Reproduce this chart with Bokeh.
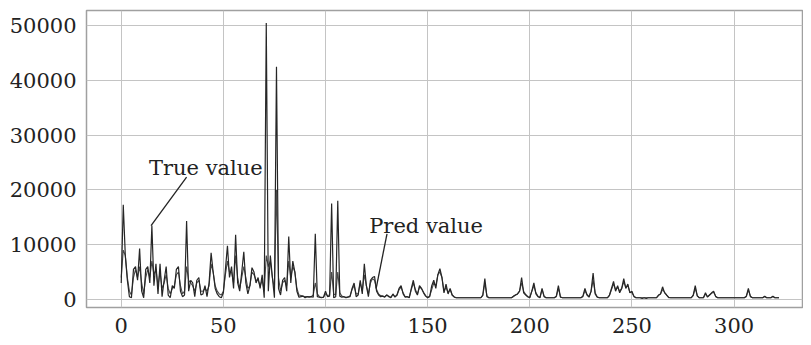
from bokeh.plotting import figure
from bokeh.models import Range1d, FixedTicker, BasicTickFormatter, Label
from bokeh.embed import file_html
from bokeh.resources import INLINE

true_vals = [
    3000, 17300, 8000, 3500, 500, 300, 5500, 6000, 3500, 9300,
    1500, 300, 5500, 6000, 3000, 13500, 2500, 6500, 1000, 6500,
    500, 3500, 6000, 800, 300, 2500, 2000, 5500, 6000, 1500,
    500, 800, 14300, 1500, 3500, 3000, 500, 3500, 4000, 800,
    1000, 2500, 500, 3000, 8500, 5000, 2000, 1000, 500, 300,
    1200, 5500, 9800, 4000, 6000, 2000, 11800, 3000, 1500, 5000,
    8700, 3000, 1000, 2500, 5800, 5000, 3000, 4000, 2000, 4500,
    300, 50500, 1500, 8000, 4000, 300, 42500, 2000, 800, 3500,
    4000, 1500, 11500, 3000, 7000, 5000, 1500, 400, 500, 600,
    300, 500, 400, 500, 400, 12000, 500, 400, 300, 400,
    1500, 500, 600, 17500, 300, 500, 18000, 600, 400, 500,
    300, 400, 500, 2000, 3000, 500, 800, 3500, 1000, 6500,
    2500, 500, 3500, 4000, 4200, 1500, 800, 500, 600, 400,
    800, 500, 300, 1000, 400, 800, 2000, 2500, 1000, 400,
    500, 300, 2000, 3500, 1500, 800, 2500, 2000, 1200, 600,
    300, 500, 2500, 3500, 2000, 4500, 5600, 4000, 1200, 2800,
    1000, 2000, 800, 400, 300, 300, 300, 300, 300, 300,
    300, 300, 300, 300, 300, 300, 300, 800, 3800, 500,
    300, 300, 300, 300, 300, 300, 300, 300, 300, 300,
    300, 300, 600, 800, 1000, 1500, 4000, 1200, 800, 500,
    300, 1500, 3000, 1000, 500, 300, 2000, 500, 300, 300,
    300, 300, 300, 600, 2500, 400, 300, 300, 300, 300,
    300, 300, 300, 300, 300, 300, 600, 2000, 800, 400,
    1500, 4800, 1000, 400, 300, 300, 300, 300, 300, 800,
    2000, 3300, 1500, 2500, 1200, 2000, 3800, 2000, 2800, 1200,
    1500, 500, 300, 300, 300, 200, 300, 200, 300, 300,
    300, 300, 300, 800, 1000, 2300, 1200, 800, 300, 300,
    300, 300, 300, 300, 300, 300, 300, 300, 300, 300,
    800, 2500, 600, 300, 300, 300, 1200, 400, 800, 1200,
    1500, 500, 300, 300, 300, 300, 300, 300, 300, 300,
    300, 300, 300, 300, 300, 300, 600, 2000, 500, 300,
    300, 300, 300, 300, 300, 600, 300, 300, 300, 600,
    300, 300, 300,
]

pred_vals = [
    4000, 9000, 8000, 4000, 1500, 800, 4000, 5500, 4000, 6000,
    3000, 1000, 4000, 5500, 4000, 7000, 4500, 5500, 2500, 5000,
    2000, 3000, 4500, 2000, 1000, 2000, 2500, 4500, 5000, 2500,
    1000, 1500, 6000, 3500, 3000, 2500, 1500, 3000, 3500, 1500,
    1500, 2000, 1500, 2500, 6500, 5000, 2500, 1500, 1000, 800,
    1500, 4500, 7000, 5000, 5000, 3000, 8000, 4000, 2000, 4000,
    6000, 4000, 2000, 2500, 5000, 4500, 3500, 3500, 2500, 3500,
    1500, 8000, 6000, 7000, 4000, 2000, 20000, 4000, 1500, 3000,
    3500, 2500, 7000, 4000, 6000, 5000, 2000, 800, 700, 600,
    500, 500, 500, 500, 800, 3000, 1000, 500, 400, 400,
    1000, 700, 800, 5000, 1000, 800, 5000, 1200, 600, 500,
    400, 500, 600, 1800, 2500, 1000, 1000, 3000, 1500, 4500,
    2500, 1000, 3000, 3800, 3500, 1800, 1000, 700, 600, 500,
    800, 600, 400, 900, 500, 800, 1800, 2200, 1200, 500,
    500, 400, 1800, 3000, 1800, 1000, 2200, 2000, 1300, 700,
    400, 600, 1800, 3000, 2500, 4500, 5000, 4000, 1500, 2200,
    1200, 1800, 800, 500, 300, 300, 300, 300, 300, 300,
    300, 300, 300, 300, 300, 300, 300, 700, 3000, 700,
    300, 300, 300, 300, 300, 300, 300, 300, 300, 300,
    300, 300, 500, 800, 1000, 1500, 3000, 1500, 900, 500,
    400, 1500, 2500, 1200, 600, 400, 1800, 600, 300, 300,
    300, 300, 300, 500, 2000, 500, 300, 300, 300, 300,
    300, 300, 300, 300, 300, 300, 500, 1600, 900, 500,
    1500, 3500, 1200, 500, 300, 300, 300, 300, 300, 700,
    1800, 2800, 1800, 2200, 1500, 2000, 3200, 2200, 2500, 1300,
    1200, 600, 300, 300, 300, 300, 300, 300, 300, 300,
    300, 300, 300, 700, 1000, 1800, 1300, 800, 400, 300,
    300, 300, 300, 300, 300, 300, 300, 300, 300, 300,
    700, 2000, 700, 300, 300, 300, 1000, 500, 800, 1100,
    1300, 600, 300, 300, 300, 300, 300, 300, 300, 300,
    300, 300, 300, 300, 300, 300, 500, 1700, 600, 300,
    300, 300, 300, 300, 300, 500, 300, 300, 300, 500,
    300, 300, 300,
]

x_idx = list(range(len(true_vals)))

x_ticks = [0, 50, 100, 150, 200, 250, 300]
y_ticks = [0, 10000, 20000, 30000, 40000, 50000]

true_label = "True value"
true_label_pos = (13.6, 24000)
true_arrow = ([14.6, 32.0], [13470, 22320])
pred_label = "Pred value"
pred_label_pos = (121.4, 13470)
pred_arrow = ([124.8, 130.1], [2030, 11990])

FONT = "DejaVu Serif"

p = figure(width=803, height=337, output_backend="svg", toolbar_location=None,
           x_range=Range1d(-17, 333.5), y_range=Range1d(-1480, 52770),
           min_border_left=86, min_border_top=10, min_border_bottom=30, min_border_right=1)

p.background_fill_color = "white"
p.border_fill_color = "white"
p.outline_line_color = "#a0a0a0"
p.outline_line_width = 1.5

p.line(x_idx, pred_vals, line_color="#4a4a4a", line_width=1.1)
p.line(x_idx, true_vals, line_color="#262626", line_width=1.2)

p.line(true_arrow[0], true_arrow[1], line_color="#222222", line_width=1.3)
p.line(pred_arrow[0], pred_arrow[1], line_color="#222222", line_width=1.3)

p.add_layout(Label(x=true_label_pos[0], y=true_label_pos[1], text=true_label,
                   text_font=FONT, text_font_size="21px", text_color="#222222",
                   text_baseline="alphabetic"))
p.add_layout(Label(x=pred_label_pos[0], y=pred_label_pos[1], text=pred_label,
                   text_font=FONT, text_font_size="21px", text_color="#222222",
                   text_baseline="alphabetic"))

p.xaxis.ticker = FixedTicker(ticks=x_ticks)
p.yaxis.ticker = FixedTicker(ticks=y_ticks)
p.yaxis.formatter = BasicTickFormatter(use_scientific=False)
for ax in (p.xaxis, p.yaxis):
    ax.axis_line_color = None
    ax.major_tick_line_color = None
    ax.minor_tick_line_color = None
    ax.major_label_text_font = FONT
    ax.major_label_text_font_size = "21px"
    ax.major_label_text_color = "#222222"
    ax.major_label_standoff = 4

p.grid.grid_line_color = "#c4c4c4"
p.grid.grid_line_width = 1

open("out.html", "w").write(file_html(p, INLINE))
